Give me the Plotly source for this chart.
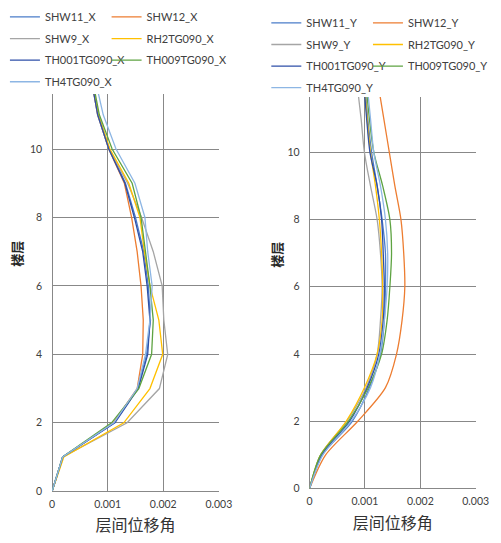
import plotly.graph_objects as go

floors = [0, 1, 2, 3, 4, 5, 6, 7, 8, 9, 10, 11, 12]

# X direction (left panel)
shw11_x = [0, 0.00019, 0.00112, 0.00154, 0.00170, 0.00177, 0.00173, 0.00165, 0.00150, 0.00132, 0.00103, 0.00083, 0.00072]
shw12_x = [0, 0.00020, 0.00110, 0.00153, 0.00163, 0.00164, 0.00160, 0.00153, 0.00143, 0.00130, 0.00102, 0.00082, 0.00071]
shw9_x = [0, 0.00019, 0.00135, 0.00193, 0.00208, 0.00201, 0.00198, 0.00182, 0.00161, 0.00136, 0.00102, 0.00082, 0.00071]
rh2_x = [0, 0.00021, 0.00129, 0.00176, 0.00199, 0.00192, 0.00176, 0.00166, 0.00158, 0.00138, 0.00104, 0.00083, 0.00072]
th001_x = [0, 0.00019, 0.00113, 0.00155, 0.00172, 0.00176, 0.00171, 0.00163, 0.00148, 0.00131, 0.00102, 0.00082, 0.00071]
th009_x = [0, 0.00019, 0.00107, 0.00156, 0.00179, 0.00182, 0.00176, 0.00168, 0.00160, 0.00144, 0.00108, 0.00085, 0.00073]
th4_x = [0, 0.00019, 0.00111, 0.00153, 0.00168, 0.00176, 0.00180, 0.00172, 0.00167, 0.00149, 0.00115, 0.00092, 0.00078]

# Y direction (right panel)
shw11_y = [0, 0.00023, 0.00077, 0.00108, 0.00128, 0.00135, 0.00137, 0.00137, 0.00131, 0.00122, 0.00112, 0.00105, 0.00100]
shw12_y = [0, 0.00029, 0.00087, 0.00137, 0.00157, 0.00167, 0.00172, 0.00170, 0.00165, 0.00154, 0.00144, 0.00134, 0.00124]
shw9_y = [0, 0.00020, 0.00067, 0.00102, 0.00122, 0.00128, 0.00131, 0.00128, 0.00122, 0.00110, 0.00099, 0.00093, 0.00086]
rh2_y = [0, 0.00020, 0.00066, 0.00099, 0.00122, 0.00131, 0.00132, 0.00130, 0.00126, 0.00119, 0.00110, 0.00104, 0.00099]
th001_y = [0, 0.00022, 0.00072, 0.00104, 0.00125, 0.00133, 0.00135, 0.00133, 0.00130, 0.00122, 0.00109, 0.00103, 0.00098]
th009_y = [0, 0.00020, 0.00070, 0.00106, 0.00130, 0.00140, 0.00145, 0.00148, 0.00145, 0.00132, 0.00116, 0.00108, 0.00102]
th4_y = [0, 0.00024, 0.00075, 0.00110, 0.00127, 0.00135, 0.00140, 0.00141, 0.00137, 0.00128, 0.00116, 0.00110, 0.00104]

names_x = ["SHW11_X", "SHW12_X", "SHW9_X", "RH2TG090_X", "TH001TG090_X", "TH009TG090_X", "TH4TG090_X"]
names_y = ["SHW11_Y", "SHW12_Y", "SHW9_Y", "RH2TG090_Y", "TH001TG090_Y", "TH009TG090_Y", "TH4TG090_Y"]
series_x = [shw11_x, shw12_x, shw9_x, rh2_x, th001_x, th009_x, th4_x]
series_y = [shw11_y, shw12_y, shw9_y, rh2_y, th001_y, th009_y, th4_y]
colors = ["#4A7CC9", "#ED7D31", "#A5A5A5", "#FFC000", "#2E4FA8", "#5EA342", "#8DB6E4"]

x_tickvals = [0, 0.001, 0.002, 0.003]
x_ticktext = ["0", "0.001", "0.002", "0.003"]
y_tickvals = [0, 2, 4, 6, 8, 10]
x_title = "层间位移角"
y_title = "楼层"

fig = go.Figure()
for i, (nm, vals) in enumerate(zip(names_x, series_x)):
    fig.add_trace(go.Scatter(x=vals, y=floors, mode="lines", name=nm,
                             line=dict(color=colors[i], width=1.3),
                             xaxis="x", yaxis="y",
                             legend="legend" if i % 2 == 0 else "legend2",
                             legendgroup=nm))
for i, (nm, vals) in enumerate(zip(names_y, series_y)):
    fig.add_trace(go.Scatter(x=vals, y=floors, mode="lines", name=nm,
                             line=dict(color=colors[i], width=1.3, shape="spline", smoothing=0.8),
                             xaxis="x2", yaxis="y2",
                             legend="legend3" if i % 2 == 0 else "legend4",
                             legendgroup=nm))

W, H = 501, 543
grid = "#888888"
tickfont = dict(family="Lato, Liberation Sans, sans-serif", size=10.5, color="#404040")

def xax(domain, anchor):
    return dict(domain=domain, anchor=anchor, range=[0, 0.003], tickvals=x_tickvals, ticktext=x_ticktext,
                showgrid=True, gridcolor=grid, gridwidth=1, zeroline=True, zerolinecolor=grid,
                zerolinewidth=1, showline=False, ticks="", tickfont=tickfont, ticklabelstandoff=5,
                title=dict(text=x_title, standoff=11,
                           font=dict(family="Noto Sans CJK SC", size=16, color="#333333")))

def yax(domain, anchor, top):
    return dict(domain=domain, anchor=anchor, range=[0, top], tickvals=y_tickvals,
                showgrid=True, gridcolor=grid, gridwidth=1, zeroline=True, zerolinecolor=grid,
                zerolinewidth=1, showline=False, ticks="", tickfont=tickfont, ticklabelstandoff=9)

legfont = dict(family="Lato, Liberation Sans, sans-serif", size=11, color="#404040")

def leg(xpx, ypx):
    return dict(x=xpx / W, y=1 - ypx / H, xanchor="left", yanchor="top", orientation="v",
                bgcolor="rgba(0,0,0,0)", font=legfont, traceorder="grouped", tracegroupgap=2.6,
                itemwidth=30)

ytitle_font = dict(family="Noto Sans CJK SC", size=13, color="#262626", weight="bold")

fig.update_layout(
    width=W, height=H, margin=dict(l=0, r=0, t=0, b=0),
    paper_bgcolor="white", plot_bgcolor="white",
    xaxis=xax([50.7 / W, 223 / W], "y"),
    yaxis=yax([1 - 496.7 / H, 1 - 95 / H], "x", (496.7 - 95) / 34.6),
    xaxis2=xax([316.7 / W, 488.3 / W], "y2"),
    yaxis2=yax([1 - 494 / H, 1 - 98 / H], "x2", (494 - 98) / 34.0),
    legend=leg(2, 2.5),
    legend2=leg(107, 2.5),
    legend3=leg(272, 8.5),
    legend4=leg(377, 8.5),
    annotations=[
        dict(text=y_title, x=14 / W, y=1 - 257 / H, xref="paper", yref="paper", showarrow=False,
             xanchor="center", yanchor="middle", textangle=-90, font=ytitle_font),
        dict(text=y_title, x=282.5 / W, y=1 - 257 / H, xref="paper", yref="paper", showarrow=False,
             xanchor="center", yanchor="middle", textangle=-90, font=ytitle_font),
    ],
)

fig.write_html("out.html")
